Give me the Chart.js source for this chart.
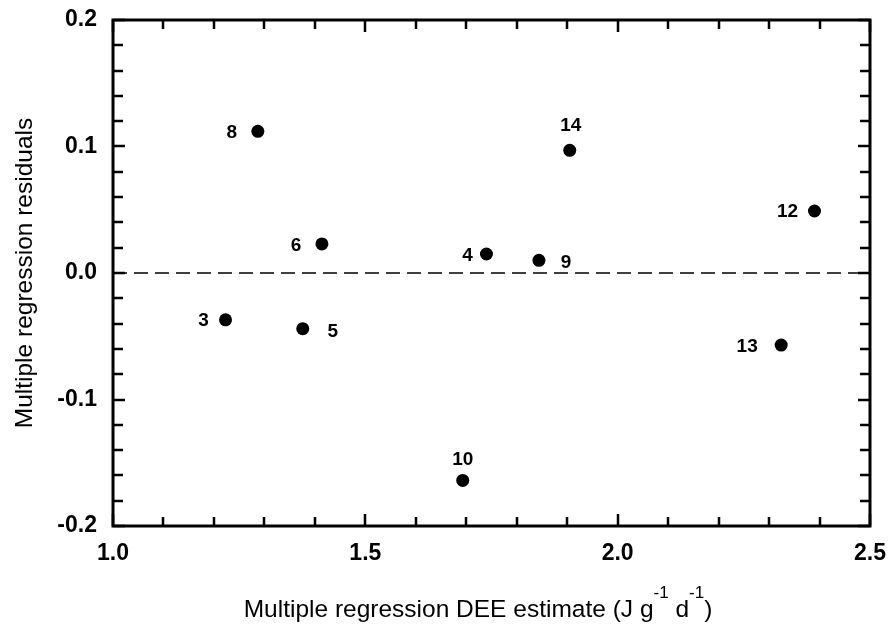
<!DOCTYPE html>
<html>
<head>
<meta charset="utf-8">
<script src="https://cdn.jsdelivr.net/npm/chart.js@4.4.1/dist/chart.umd.min.js"></script>
<style>
  html, body { margin: 0; padding: 0; background: #fff; }
  #wrap { width: 896px; height: 630px; }
</style>
</head>
<body>
<div id="wrap"><canvas id="c" width="896" height="630"></canvas></div>
<script>
// ---- data ----
const pointIds   = ['3', '4', '5', '6', '8', '9', '10', '12', '13', '14'];
const estimates  = [1.223, 1.740, 1.376, 1.414, 1.287, 1.844, 1.693, 2.390, 2.324, 1.905];
const residuals  = [-0.037, 0.015, -0.044, 0.023, 0.112, 0.010, -0.164, 0.049, -0.057, 0.097];
const xTickValues = [1.0, 1.5, 2.0, 2.5];
const yTickValues = [-0.2, -0.1, 0.0, 0.1, 0.2];
const xTitle = ['Multiple regression DEE estimate (J g', '-1', ' d', '-1', ')'];
const yTitle = 'Multiple regression residuals';
const refLineX = [1.0, 2.5];
const refLineY = [0, 0];

// ---- styles (label placement relative to each point, px) ----
const labelOffset = {
  '3': [-22, 0], '4': [-19, 1], '5': [30, 2], '6': [-26, 1], '8': [-26, 0],
  '9': [27, 1], '10': [0, -22], '12': [-27, 0], '13': [-34, 1], '14': [1, -26]
};
const FONT = '"Liberation Sans", Arial, Helvetica, sans-serif';

const points = estimates.map((x, i) => ({ x: x, y: residuals[i] }));
const refLine = refLineX.map((x, i) => ({ x: x, y: refLineY[i] }));

const decoPlugin = {
  id: 'deco',
  afterDatasetsDraw(chart) {
    const ctx = chart.ctx;
    const a = chart.chartArea;
    const xs = chart.scales.x, ys = chart.scales.y;
    ctx.save();
    // ticks (inward, all four sides)
    ctx.strokeStyle = '#000';
    ctx.lineWidth = 2.5;
    ctx.beginPath();
    for (let k = 10; k <= 25; k++) {
      const v = k / 10;
      const px = Math.round(xs.getPixelForValue(v));
      const len = (k % 5 === 0) ? 12 : 9;
      ctx.moveTo(px, a.bottom); ctx.lineTo(px, a.bottom - len);
      ctx.moveTo(px, a.top); ctx.lineTo(px, a.top + len);
    }
    for (let k = -10; k <= 10; k++) {
      const v = k / 50;
      const py = Math.round(ys.getPixelForValue(v));
      const len = (k % 5 === 0) ? 12 : 10;
      ctx.moveTo(a.left, py); ctx.lineTo(a.left + len, py);
      ctx.moveTo(a.right, py); ctx.lineTo(a.right - len, py);
    }
    ctx.stroke();
    // frame
    ctx.lineWidth = 3;
    ctx.strokeRect(a.left, a.top, a.right - a.left, a.bottom - a.top);

    // point labels
    const meta = chart.getDatasetMeta(1);
    ctx.fillStyle = '#000';
    ctx.font = 'bold 19px ' + FONT;
    ctx.textAlign = 'center';
    ctx.textBaseline = 'middle';
    meta.data.forEach((el, i) => {
      const id = pointIds[i];
      const off = labelOffset[id] || [0, -20];
      ctx.fillText(id, el.x + off[0], el.y + off[1] + 1);
    });

    // x title with superscripts
    const mainFont = '24.5px ' + FONT;
    const supFont = '17px ' + FONT;
    let widths = xTitle.map((s, i) => {
      ctx.font = (i % 2 === 1) ? supFont : mainFont;
      return ctx.measureText(s).width;
    });
    const total = widths.reduce((p, c) => p + c, 0);
    let x = 478 - total / 2;
    const base = 617;
    ctx.textAlign = 'left';
    ctx.textBaseline = 'alphabetic';
    xTitle.forEach((s, i) => {
      const sup = (i % 2 === 1);
      ctx.font = sup ? supFont : mainFont;
      ctx.fillText(s, x, sup ? base - 19 : base);
      x += widths[i];
    });
    ctx.restore();
  }
};

new Chart(document.getElementById('c'), {
  type: 'scatter',
  data: {
    datasets: [
      {
        type: 'line',
        data: refLine,
        borderColor: '#000',
        borderWidth: 1.3,
        borderDash: [14, 7],
        pointRadius: 0,
        fill: false,
        order: 2
      },
      {
        data: points,
        backgroundColor: '#000',
        borderColor: '#000',
        pointRadius: 6.5,
        pointHoverRadius: 6.5,
        borderWidth: 0,
        order: 1
      }
    ]
  },
  options: {
    responsive: false,
    animation: false,
    events: [],
    layout: { padding: { top: 20, right: 26, left: 0, bottom: 0 } },
    plugins: { legend: { display: false }, tooltip: { enabled: false } },
    scales: {
      x: {
        type: 'linear',
        min: 1.0, max: 2.5,
        afterBuildTicks(scale) { scale.ticks = xTickValues.map(v => ({ value: v })); },
        afterFit(scale) { scale.height = 104; scale.paddingLeft = 0; scale.paddingRight = 0; },
        grid: { display: false, drawTicks: false },
        border: { display: false },
        ticks: {
          padding: 14,
          color: '#000',
          font: { family: FONT, size: 23, weight: 'bold' },
          maxRotation: 0,
          callback: v => Number(v).toFixed(1)
        },
        title: { display: false }
      },
      y: {
        type: 'linear',
        min: -0.2, max: 0.2,
        afterBuildTicks(scale) { scale.ticks = yTickValues.map(v => ({ value: v })); },
        afterFit(scale) { scale.width = 113; scale.paddingTop = 0; scale.paddingBottom = 0; },
        grid: { display: false, drawTicks: false },
        border: { display: false },
        ticks: {
          padding: 16,
          color: '#000',
          font: { family: FONT, size: 23, weight: 'bold' },
          callback: v => Number(v).toFixed(1)
        },
        title: {
          display: true,
          text: yTitle,
          color: '#000',
          font: { family: FONT, size: 24.5, weight: 'normal' },
          padding: { top: 11, bottom: 0 }
        }
      }
    }
  },
  plugins: [decoPlugin]
});
</script>
</body>
</html>
